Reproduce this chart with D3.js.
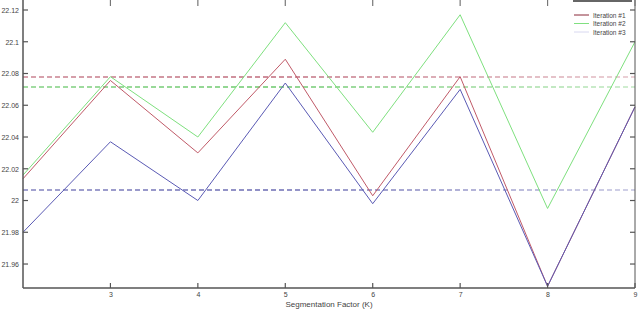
<!DOCTYPE html>
<html>
<head>
<meta charset="utf-8">
<script src="https://cdn.jsdelivr.net/npm/d3@7"></script>
<style>
  body { margin: 0; background: #fff; }
  text { font-family: "Liberation Sans", Arial, sans-serif; fill: #444; }
</style>
</head>
<body>
<script>
var kValues = [2, 3, 4, 5, 6, 7, 8, 9];
var iter1 = [22.0137, 22.0756, 22.030, 22.089, 22.003, 22.078, 21.946, 22.059];
var iter2 = [22.016, 22.078, 22.040, 22.112, 22.043, 22.117, 21.995, 22.100];
var iter3 = [21.980, 22.037, 22.000, 22.074, 21.998, 22.070, 21.946, 22.059];
var refLevels = [22.0778, 22.0715, 22.0066];
var seriesNames = ["Iteration #1", "Iteration #2", "Iteration #3"];
var xTicks = [3, 4, 5, 6, 7, 8, 9];
var yTicks = [21.96, 21.98, 22, 22.02, 22.04, 22.06, 22.08, 22.1, 22.12];

var w = 640, h = 312;
var padLeft = 23, padRight = 635, padTop = 0, padBottom = 288;
var colors = ["#c05a68", "#7ee07e", "#5a5ab4"];
var dashColors = ["rgb(180,80,100)", "rgb(80,190,80)", "rgb(80,80,165)"];

var svg = d3.select("body").append("svg")
    .attr("width", w)
    .attr("height", h);

var xScale = d3.scaleLinear().domain([2, 9]).range([padLeft, padRight]);
var yScale = d3.scaleLinear().domain([21.9449, 22.1263]).range([padBottom, padTop]);

// fading gradients for the dashed lines
var defs = svg.append("defs");
dashColors.forEach(function (c, i) {
    var g = defs.append("linearGradient")
        .attr("id", "fade" + i)
        .attr("gradientUnits", "userSpaceOnUse")
        .attr("x1", padLeft).attr("x2", padRight)
        .attr("y1", 0).attr("y2", 0);
    g.append("stop").attr("offset", "0%").attr("stop-color", c).attr("stop-opacity", 0.7);
    g.append("stop").attr("offset", "40%").attr("stop-color", c).attr("stop-opacity", 0.85);
    g.append("stop").attr("offset", "100%").attr("stop-color", c).attr("stop-opacity", 0.35);
});

// dashed reference lines
svg.selectAll("line.ref")
    .data(refLevels)
    .enter()
    .append("line")
    .attr("x1", padLeft)
    .attr("x2", padRight)
    .attr("y1", function (d) { return yScale(d); })
    .attr("y2", function (d) { return yScale(d); })
    .attr("stroke", function (d, i) { return "url(#fade" + i + ")"; })
    .attr("stroke-width", 1.5)
    .attr("stroke-dasharray", "5,3");

// series
var line = d3.line()
    .x(function (d, i) { return xScale(kValues[i]); })
    .y(function (d) { return yScale(d); });

svg.selectAll("path.series")
    .data([iter1, iter2, iter3])
    .enter()
    .append("path")
    .attr("d", line)
    .attr("fill", "none")
    .attr("stroke", function (d, i) { return colors[i]; })
    .attr("stroke-width", 1);

// axes box
var axisColor = "#555";
svg.append("line").attr("x1", padLeft).attr("x2", padLeft).attr("y1", padTop).attr("y2", padBottom)
    .attr("stroke", axisColor).attr("stroke-width", 1.5);
svg.append("line").attr("x1", padLeft).attr("x2", padRight).attr("y1", padBottom).attr("y2", padBottom)
    .attr("stroke", axisColor).attr("stroke-width", 1.5);
svg.append("line").attr("x1", padRight).attr("x2", padRight).attr("y1", padTop).attr("y2", padBottom)
    .attr("stroke", axisColor).attr("stroke-width", 1);

// x ticks (bottom and top)
var xAxis = d3.axisBottom(xScale).tickValues(xTicks).tickSize(0).tickPadding(4)
    .tickFormat(d3.format("d"));
var gx = svg.append("g")
    .attr("transform", "translate(0," + padBottom + ")")
    .call(xAxis);
gx.select(".domain").remove();
gx.selectAll("text").attr("font-size", "7px").attr("fill", "#555").attr("font-family", "Liberation Sans, sans-serif");

svg.selectAll("line.xt")
    .data(xTicks)
    .enter()
    .append("line")
    .attr("x1", function (d) { return xScale(d); })
    .attr("x2", function (d) { return xScale(d); })
    .attr("y1", padBottom)
    .attr("y2", padBottom - 5)
    .attr("stroke", axisColor)
    .attr("stroke-width", 1.2);
svg.selectAll("line.xtt")
    .data(xTicks)
    .enter()
    .append("line")
    .attr("x1", function (d) { return xScale(d); })
    .attr("x2", function (d) { return xScale(d); })
    .attr("y1", padTop)
    .attr("y2", padTop + 6)
    .attr("stroke", "#777")
    .attr("stroke-width", 1.2);

// y ticks (left and right)
var yAxis = d3.axisLeft(yScale).tickValues(yTicks).tickSize(0).tickPadding(4)
    .tickFormat(function (d) { return d3.format("~g")(d); });
var gy = svg.append("g")
    .attr("transform", "translate(" + padLeft + ",0)")
    .call(yAxis);
gy.select(".domain").remove();
gy.selectAll("text").attr("font-size", "7px").attr("fill", "#555").attr("font-family", "Liberation Sans, sans-serif");

svg.selectAll("line.yt")
    .data(yTicks)
    .enter()
    .append("line")
    .attr("x1", padLeft)
    .attr("x2", padLeft + 5)
    .attr("y1", function (d) { return yScale(d); })
    .attr("y2", function (d) { return yScale(d); })
    .attr("stroke", axisColor)
    .attr("stroke-width", 1.2);
svg.selectAll("line.ytr")
    .data(yTicks)
    .enter()
    .append("line")
    .attr("x1", padRight)
    .attr("x2", padRight - 5)
    .attr("y1", function (d) { return yScale(d); })
    .attr("y2", function (d) { return yScale(d); })
    .attr("stroke", axisColor)
    .attr("stroke-width", 1.2);

// x label
svg.append("text")
    .attr("x", (padLeft + padRight) / 2)
    .attr("y", 307)
    .attr("text-anchor", "middle")
    .attr("font-size", "8px")
    .attr("fill", "#555")
    .text("Segmentation Factor (K)");

// legend
svg.append("line").attr("x1", 573).attr("x2", 632).attr("y1", 1).attr("y2", 1)
    .attr("stroke", "#666").attr("stroke-width", 2);
var leg = svg.selectAll("g.leg")
    .data(seriesNames)
    .enter()
    .append("g")
    .attr("transform", function (d, i) { return "translate(574," + (15 + i * 8.5) + ")"; });
leg.append("line")
    .attr("x1", 0).attr("x2", 15).attr("y1", 0).attr("y2", 0)
    .attr("stroke", function (d, i) { return ["#8a2838", "#80e080", "#d8d8f0"][i]; })
    .attr("stroke-width", 1);
leg.append("text")
    .attr("x", 19)
    .attr("y", 2.5)
    .attr("font-size", "6.5px")
    .attr("fill", "#555")
    .text(function (d) { return d; });
</script>
</body>
</html>
